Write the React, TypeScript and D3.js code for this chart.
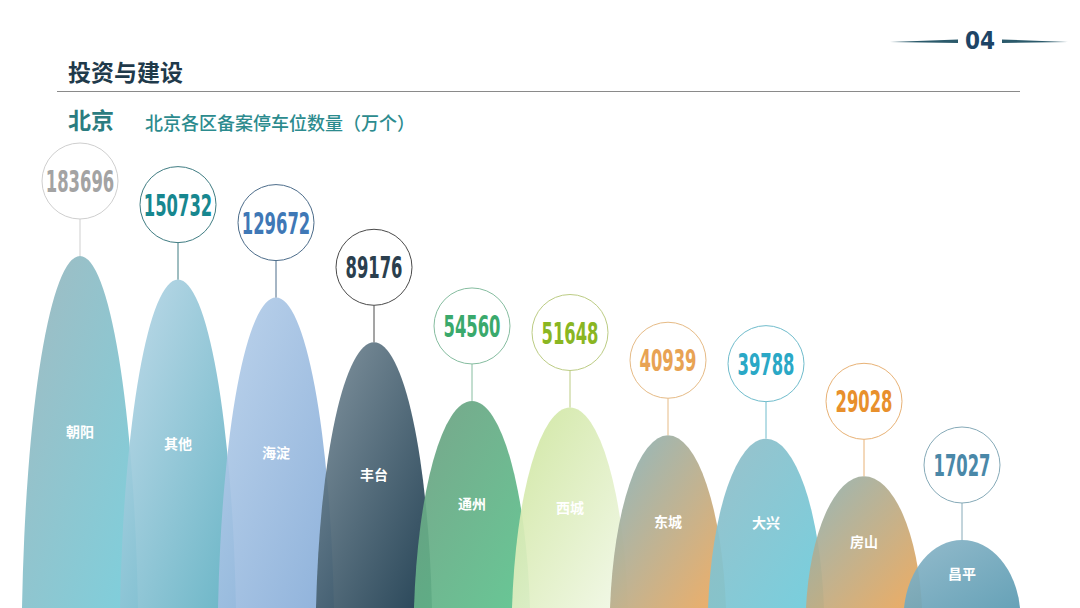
import { useEffect } from "react";
import { scaleLog, scalePoint } from "d3";

// 北京各区备案停车位数量
const districts = ["朝阳", "其他", "海淀", "丰台", "通州", "西城", "东城", "大兴", "房山", "昌平"];
const counts = [183696, 150732, 129672, 89176, 54560, 51648, 40939, 39788, 29028, 17027];

const W = 1080;
const H = 608;
const BASE = 608;

// styling per district: gradient start / end, number color, ring color
const gradFrom = ["#9ab6bd", "#bcd8e8", "#b8d0ea", "#7a8d99", "#6e9f82", "#cde59c", "#85b3bd", "#94bcc6", "#8eb2b4", "#8cb6c8"];
const gradTo = ["#74ccda", "#5fb0c2", "#86acd8", "#16364a", "#5cc48e", "#f2f8e8", "#f0a85a", "#6cccdc", "#eea656", "#5b9bb2"];
const numColor = ["#a3a3a3", "#17878f", "#3f78b6", "#2b3f4e", "#3aa96c", "#8ab622", "#e8a354", "#2aa8c6", "#e8902c", "#4a88a8"];
const ringColor = ["#cfcfcf", "#3f7c82", "#4c6c8a", "#4a4a4a", "#86bda0", "#bccc84", "#e6bb86", "#70bccc", "#e8b276", "#86aab8"];

const x = scalePoint<string>().domain(districts).range([80, 962]);
const top = scaleLog().domain([17027, 183696]).range([540, 256]);

const HALF = 58;

// half-ellipse-like arch whose centre sits below the page edge
function archPath(cx: number, yTop: number) {
  const h = BASE - yTop;
  const b = h * 1.14;
  const a = HALF / Math.sqrt(1 - Math.pow((b - h) / b, 2));
  return `M${cx - HALF},${BASE} A${a},${b} 0 0 1 ${cx + HALF},${BASE} Z`;
}

export default function App() {
  useEffect(() => {
    document.body.style.margin = "0";
    document.body.style.overflow = "hidden";
  }, []);

  return (
    <svg width={W} height={H} style={{ display: "block", background: "#fff" }}>
      <defs>
        {districts.map((d, i) => (
          <linearGradient key={d} id={`g${i}`} x1="0" y1="0" x2="1" y2="1">
            <stop offset="0" stopColor={gradFrom[i]} />
            <stop offset="1" stopColor={gradTo[i]} />
          </linearGradient>
        ))}
      </defs>

      {/* page number ornament */}
      <polygon points="890,42 958,39.5 958,43" fill="#2b5a6b" />
      <polygon points="1002,39.5 1002,43 1068,42" fill="#2b5a6b" />
      <text
        x={980}
        y={49}
        textAnchor="middle"
        fontFamily="'Liberation Sans Narrow', 'DejaVu Sans Condensed', sans-serif"
        fontWeight="bold"
        fontSize={24}
        fill="#1d4466"
      >
        04
      </text>

      {/* header */}
      <text x={68} y={81} fontFamily="'Noto Sans CJK SC', sans-serif" fontWeight="bold" fontSize={23} fill="#1f3a4b">
        投资与建设
      </text>
      <line x1={57} x2={1020} y1={91.5} y2={91.5} stroke="#8a8a8a" strokeWidth={1} />
      <text x={68} y={129} fontFamily="'Noto Sans CJK SC', sans-serif" fontWeight="bold" fontSize={23} fill="#2b7c80">
        北京
      </text>
      <text x={145} y={130} fontFamily="'Noto Sans CJK SC', sans-serif" fontWeight="500" fontSize={18} fill="#2c8b8e">
        北京各区备案停车位数量（万个）
      </text>

      {/* arches */}
      {districts.map((d, i) => (
        <path key={d} d={archPath(x(d)!, top(counts[i]))} fill={`url(#g${i})`} opacity={0.93} />
      ))}

      {districts.map((d, i) => {
        const cx = x(d)!;
        const yTop = top(counts[i]);
        const mid = (yTop + BASE) / 2;
        return (
          <text
            key={d}
            x={cx}
            y={mid + 5}
            textAnchor="middle"
            fontFamily="'Noto Sans CJK SC', sans-serif"
            fontSize={14}
            fontWeight="bold"
            fill="#ffffff"
          >
            {d}
          </text>
        );
      })}

      {/* bubbles */}
      {districts.map((d, i) => {
        const cx = x(d)!;
        const yTop = top(counts[i]);
        const cy = yTop - 75;
        const label = String(counts[i]);
        return (
          <g key={d}>
            <line x1={cx} x2={cx} y1={cy + 38} y2={yTop} stroke={ringColor[i]} strokeWidth={1} />
            <circle cx={cx} cy={cy} r={38} fill="#fff" stroke={ringColor[i]} strokeWidth={1} />
            <text
              x={cx}
              y={cy + 11}
              textAnchor="middle"
              fontFamily="'Liberation Sans Narrow', 'DejaVu Sans Condensed', sans-serif"
              fontWeight="bold"
              fontSize={31}
              fill={numColor[i]}
              textLength={label.length * 11.4}
              lengthAdjust="spacingAndGlyphs"
            >
              {label}
            </text>
          </g>
        );
      })}
    </svg>
  );
}
